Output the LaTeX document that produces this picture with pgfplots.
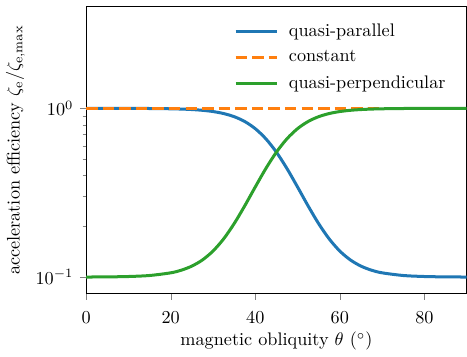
\documentclass[border={0pt 0pt 0pt 3.5pt}]{standalone}
\usepackage{pgfplots}
\pgfplotsset{compat=1.18}
\definecolor{tabblue}{HTML}{1F77B4}
\definecolor{taborange}{HTML}{FF7F0E}
\definecolor{tabgreen}{HTML}{2CA02C}
\begin{document}
\begin{tikzpicture}
\begin{axis}[
  scale only axis,
  width=209pt, height=157.5pt,
  ymode=log,
  xmin=0, xmax=90, ymin=0.08, ymax=4,
  xtick={0,20,40,60,80},
  ytick={0.1,1},
  tick align=outside,
  tick pos=left,
  major tick length=3.5pt,
  minor tick length=2pt,
  xticklabel style={yshift=-3pt},
  xlabel style={yshift=2pt},
  ylabel style={yshift=-1pt},
  xlabel={magnetic obliquity $\theta$ ($^\circ$)},
  ylabel={acceleration efficiency $\zeta_\mathrm{e}/\zeta_\mathrm{e,max}$},
  legend style={draw=none, fill=none, at={(0.955,0.955)}, anchor=north east, row sep=2.2pt, inner sep=0pt,
    /tikz/every odd column/.append style={column sep=3.5pt}},
  legend cell align=left,
  legend image code/.code={\draw[#1] (0pt,0pt) -- (23pt,0pt);},
  every axis plot/.append style={line width=1.65pt},
]
\addplot[tabblue, smooth] coordinates {
(0,0.99989)(5,0.99970)(10,0.99918)(15,0.99777)(20,0.99398)(22.5,0.99011)(25,0.98381)(27.5,0.97362)(30,0.95732)(32.5,0.93173)(35,0.89272)(37.5,0.83582)(40,0.75795)(42.5,0.66021)(45,0.55)(47.5,0.43979)(50,0.34205)(52.5,0.26418)(55,0.20728)(57.5,0.16827)(60,0.14268)(62.5,0.12638)(65,0.11619)(67.5,0.10989)(70,0.10602)(75,0.10223)(80,0.10082)(85,0.10030)(90,0.10011)
};
\addlegendentry{quasi-parallel}
\addplot[taborange, dash pattern=on 6.3pt off 2.8pt] coordinates {(0,1)(90,1)};
\addlegendentry{constant}
\addplot[tabgreen, smooth] coordinates {
(0,0.10011)(5,0.10030)(10,0.10082)(15,0.10223)(20,0.10602)(22.5,0.10989)(25,0.11619)(27.5,0.12638)(30,0.14268)(32.5,0.16827)(35,0.20728)(37.5,0.26418)(40,0.34205)(42.5,0.43979)(45,0.55)(47.5,0.66021)(50,0.75795)(52.5,0.83582)(55,0.89272)(57.5,0.93173)(60,0.95732)(62.5,0.97362)(65,0.98381)(67.5,0.99011)(70,0.99398)(75,0.99777)(80,0.99918)(85,0.99970)(90,0.99989)
};
\addlegendentry{quasi-perpendicular}
\end{axis}
\end{tikzpicture}
\end{document}
